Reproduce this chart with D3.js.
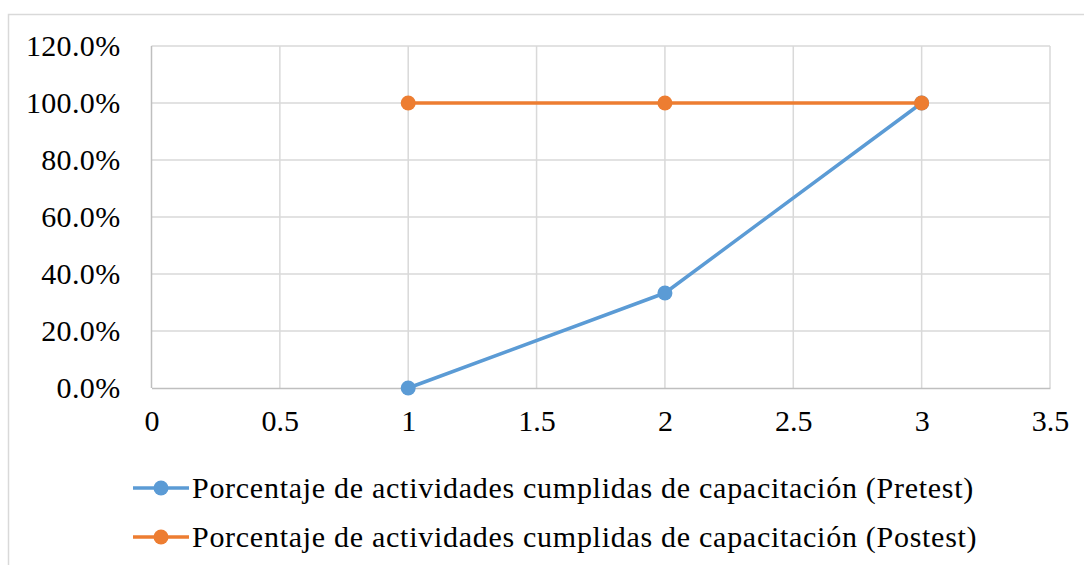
<!DOCTYPE html>
<html>
<head>
<meta charset="utf-8">
<script src="https://cdn.jsdelivr.net/npm/d3@7"></script>
<style>
  html, body { margin: 0; padding: 0; background: #fff; }
  svg { display: block; }
</style>
</head>
<body>
<svg id="chart" width="1084" height="565"></svg>
<script>
// Chart data
const sessions = [1, 2, 3];
const pretest = [0.0, 0.3333, 1.0];
const postest = [1.0, 1.0, 1.0];
const seriesNames = [
  "Porcentaje de actividades cumplidas de capacitación (Pretest)",
  "Porcentaje de actividades cumplidas de capacitación (Postest)"
];
const seriesColors = ["#5b9bd5", "#ed7d31"];
const xTicks = [0, 0.5, 1, 1.5, 2, 2.5, 3, 3.5];
const yTicks = [0, 0.2, 0.4, 0.6, 0.8, 1.0, 1.2];

const FONT = "Liberation Serif";
const FONT_SIZE = "30px";

const svg = d3.select("#chart");

// Outer chart frame
svg.append("rect")
  .attr("x", 8.5).attr("y", 14.5)
  .attr("width", 1090).attr("height", 600)
  .attr("fill", "none").attr("stroke", "#d9d9d9").attr("stroke-width", 1.5);

const plot = { left: 151.5, right: 1050, top: 46, bottom: 388 };

const x = d3.scaleLinear().domain([0, 3.5]).range([plot.left, plot.right]);
const y = d3.scaleLinear().domain([0, 1.2]).range([plot.bottom, plot.top]);

// Grid
const grid = svg.append("g");
grid.selectAll("line.h").data(yTicks.filter(d => d > 0)).join("line")
  .attr("x1", plot.left).attr("x2", plot.right)
  .attr("y1", d => y(d)).attr("y2", d => y(d))
  .attr("stroke", "#d9d9d9").attr("stroke-width", 1.5);
grid.selectAll("line.v").data(xTicks).join("line")
  .attr("y1", plot.top).attr("y2", plot.bottom)
  .attr("x1", d => x(d)).attr("x2", d => x(d))
  .attr("stroke", d => d === 0 ? "#bfbfbf" : "#d9d9d9").attr("stroke-width", 1.5);

// Axes
const fmt = d => (d * 100).toFixed(1) + "%";
const yAxis = svg.append("g")
  .attr("transform", `translate(${plot.left},0)`)
  .call(d3.axisLeft(y).tickValues(yTicks).tickFormat(fmt).tickSize(0).tickPadding(31));
yAxis.attr("font-family", FONT).attr("font-size", FONT_SIZE);
yAxis.select(".domain").remove();
yAxis.selectAll("text").attr("fill", "#000").attr("dy", "0.33em")
  .attr("letter-spacing", "0.35px");

const xAxis = svg.append("g")
  .attr("transform", `translate(0,${plot.bottom})`)
  .call(d3.axisBottom(x).tickValues(xTicks).tickFormat(d3.format("")).tickSize(0).tickPadding(22));
xAxis.attr("font-family", FONT).attr("font-size", FONT_SIZE);
xAxis.select(".domain").attr("stroke", "#bfbfbf").attr("stroke-width", 1.5);
xAxis.selectAll("text").attr("fill", "#000");

// Series
const line = d3.line().x(d => x(d[0])).y(d => y(d[1]));
[pretest, postest].forEach((vals, i) => {
  const pts = sessions.map((s, j) => [s, vals[j]]);
  const g = svg.append("g");
  g.append("path").datum(pts).attr("d", line)
    .attr("fill", "none").attr("stroke", seriesColors[i])
    .attr("stroke-width", 3.5).attr("stroke-linejoin", "round");
  g.selectAll("circle").data(pts).join("circle")
    .attr("cx", d => x(d[0])).attr("cy", d => y(d[1])).attr("r", 7.5)
    .attr("fill", seriesColors[i]);
});

// Legend
const legend = svg.append("g").attr("font-family", FONT).attr("font-size", FONT_SIZE);
seriesNames.forEach((name, i) => {
  const ly = 488 + i * 49;
  const g = legend.append("g");
  g.append("line").attr("x1", 133).attr("x2", 189).attr("y1", ly).attr("y2", ly)
    .attr("stroke", seriesColors[i]).attr("stroke-width", 3.5);
  g.append("circle").attr("cx", 161).attr("cy", ly).attr("r", 7.5).attr("fill", seriesColors[i]);
  g.append("text").attr("x", 192).attr("y", ly).attr("dy", "0.33em")
    .attr("letter-spacing", "0.72px")
    .attr("fill", "#000").text(name);
});
</script>
</body>
</html>
